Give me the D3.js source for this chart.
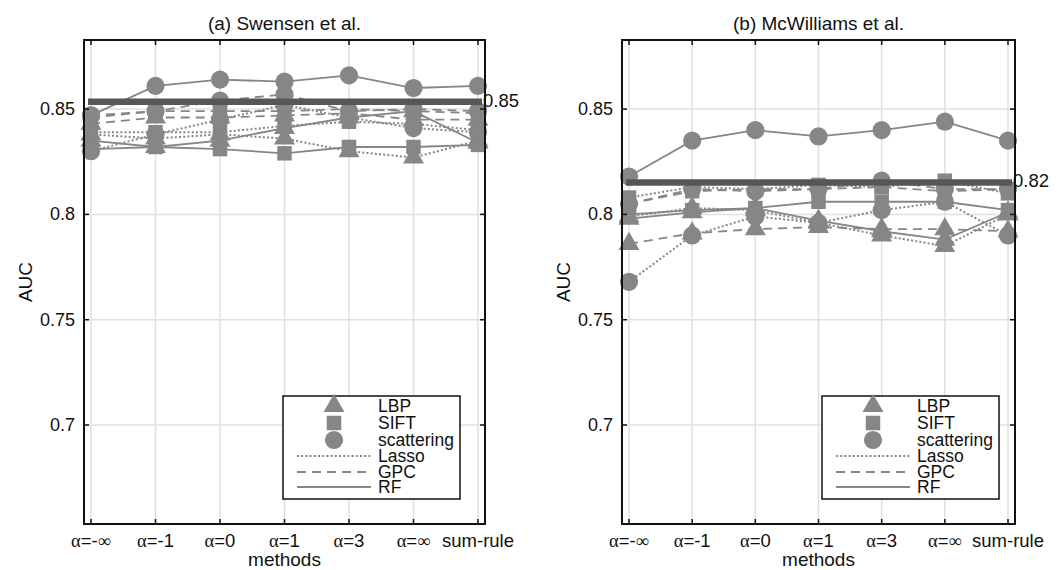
<!DOCTYPE html>
<html>
<head>
<meta charset="utf-8">
<script src="https://cdn.jsdelivr.net/npm/d3@7"></script>
<style>
  body { margin: 0; background: #fff; }
  svg text { font-family: "Liberation Sans", Arial, sans-serif; fill: #111; }
</style>
</head>
<body>
<svg id="chart" width="1060" height="570"></svg>
<script>
// x categories (fusion methods)
const methods = ["α=-∞", "α=-1", "α=0", "α=1", "α=3", "α=∞", "sum-rule"];
const yTicks = [0.7, 0.75, 0.8, 0.85];
const features = ["LBP", "SIFT", "scattering"];
const classifiers = ["Lasso", "GPC", "RF"];

// (a) Swensen et al.
const swLbpLasso = [0.838, 0.836, 0.838, 0.836, 0.830, 0.827, 0.835];
const swLbpGpc   = [0.843, 0.846, 0.846, 0.847, 0.848, 0.845, 0.845];
const swLbpRf    = [0.835, 0.832, 0.835, 0.841, 0.846, 0.849, 0.834];
const swSiftLasso = [0.839, 0.839, 0.839, 0.842, 0.844, 0.843, 0.840];
const swSiftGpc   = [0.846, 0.849, 0.849, 0.849, 0.850, 0.849, 0.848];
const swSiftRf    = [0.831, 0.832, 0.831, 0.829, 0.832, 0.832, 0.833];
const swScatLasso = [0.830, 0.838, 0.845, 0.852, 0.846, 0.841, 0.839];
const swScatGpc   = [0.847, 0.849, 0.854, 0.857, 0.849, 0.850, 0.849];
const swScatRf    = [0.847, 0.861, 0.864, 0.863, 0.866, 0.860, 0.861];
const swBaseline = 0.8535;
const swBaselineLabel = "0.85";

// (b) McWilliams et al.
const mwLbpLasso = [0.799, 0.803, 0.802, 0.796, 0.790, 0.785, 0.800];
const mwLbpGpc   = [0.786, 0.791, 0.793, 0.794, 0.793, 0.793, 0.792];
const mwLbpRf    = [0.798, 0.801, 0.803, 0.797, 0.792, 0.788, 0.801];
const mwSiftLasso = [0.808, 0.813, 0.812, 0.814, 0.813, 0.816, 0.810];
const mwSiftGpc   = [0.805, 0.811, 0.812, 0.812, 0.813, 0.811, 0.812];
const mwSiftRf    = [0.800, 0.802, 0.803, 0.806, 0.806, 0.806, 0.802];
const mwScatLasso = [0.768, 0.790, 0.799, 0.796, 0.802, 0.806, 0.790];
const mwScatGpc   = [0.805, 0.812, 0.811, 0.812, 0.816, 0.812, 0.812];
const mwScatRf    = [0.818, 0.835, 0.840, 0.837, 0.840, 0.844, 0.835];
const mwBaseline = 0.8152;
const mwBaselineLabel = "0.82";

const grey = "#868686";
const symbols = { LBP: d3.symbolTriangle, SIFT: d3.symbolSquare, scattering: d3.symbolCircle };
const symSize = { LBP: 190, SIFT: 210, scattering: 260 };
const dash = { Lasso: "2 2.2", GPC: "9 6", RF: null };

function makeSeries(rows) {
  // rows: [[feature, classifier, values], ...]
  return rows.map(([f, c, v]) => ({ feature: f, clf: c, values: v }));
}

const panels = [
  {
    title: "(a) Swensen et al.",
    left: 84, right: 485, top: 40, bottom: 524, legendX: 283,
    baseline: swBaseline, baselineLabel: swBaselineLabel,
    series: makeSeries([
      ["LBP", "Lasso", swLbpLasso], ["LBP", "GPC", swLbpGpc], ["LBP", "RF", swLbpRf],
      ["SIFT", "Lasso", swSiftLasso], ["SIFT", "GPC", swSiftGpc], ["SIFT", "RF", swSiftRf],
      ["scattering", "Lasso", swScatLasso], ["scattering", "GPC", swScatGpc], ["scattering", "RF", swScatRf]
    ])
  },
  {
    title: "(b) McWilliams et al.",
    left: 622, right: 1015, top: 40, bottom: 524, legendX: 822,
    baseline: mwBaseline, baselineLabel: mwBaselineLabel,
    series: makeSeries([
      ["LBP", "Lasso", mwLbpLasso], ["LBP", "GPC", mwLbpGpc], ["LBP", "RF", mwLbpRf],
      ["SIFT", "Lasso", mwSiftLasso], ["SIFT", "GPC", mwSiftGpc], ["SIFT", "RF", mwSiftRf],
      ["scattering", "Lasso", mwScatLasso], ["scattering", "GPC", mwScatGpc], ["scattering", "RF", mwScatRf]
    ])
  }
];

const svg = d3.select("#chart");
panels.forEach(drawPanel);

// alpha and infinity come out in a serif font like the TeX labels
function fillTickLabel(sel, label) {
  const parts = label.split(/([α∞])/).filter((s) => s.length);
  parts.forEach((p) => {
    const t = sel.append("tspan").text(p);
    if (p === "α" || p === "∞") t.style("font-family", "'Liberation Serif', 'DejaVu Serif', serif");
  });
}

function drawPanel(p) {
  const pad = 7;
  const x = d3.scaleLinear()
    .domain([0, methods.length - 1])
    .range([p.left + pad, p.right - pad]);
  const y = d3.scaleLinear().domain([0.653, 0.8828]).range([p.bottom, p.top]);
  const g = svg.append("g");

  // grid
  g.selectAll(".vgrid").data(d3.range(methods.length)).enter().append("line")
    .attr("x1", (d) => x(d)).attr("x2", (d) => x(d))
    .attr("y1", p.top).attr("y2", p.bottom)
    .attr("stroke", "#e0e0e0").attr("stroke-width", 1.5);
  g.selectAll(".hgrid").data(yTicks).enter().append("line")
    .attr("x1", p.left).attr("x2", p.right)
    .attr("y1", (d) => y(d)).attr("y2", (d) => y(d))
    .attr("stroke", "#e0e0e0").attr("stroke-width", 1.5);

  // series lines
  const line = d3.line().x((d, i) => x(i)).y((d) => y(d));
  g.selectAll(".series").data(p.series).enter().append("path")
    .attr("d", (d) => line(d.values))
    .attr("fill", "none")
    .attr("stroke", grey)
    .attr("stroke-width", (d) => (d.clf === "Lasso" ? 2 : 1.8))
    .attr("stroke-dasharray", (d) => dash[d.clf]);

  // markers
  p.series.forEach((s) => {
    g.selectAll(null).data(s.values).enter().append("path")
      .attr("transform", (d, i) => `translate(${x(i)},${y(d)})`)
      .attr("d", d3.symbol().type(symbols[s.feature]).size(symSize[s.feature]))
      .attr("fill", grey);
  });

  // thick reference line and its label
  g.append("line")
    .attr("x1", x(0) - 3).attr("x2", x(methods.length - 1) + 4)
    .attr("y1", y(p.baseline)).attr("y2", y(p.baseline))
    .attr("stroke", "#575757").attr("stroke-width", 6.5);
  g.append("text")
    .attr("x", p.right - 2).attr("y", y(p.baseline) + 5)
    .style("font-size", "18.5px")
    .text(p.baselineLabel);

  // box
  g.append("rect")
    .attr("x", p.left).attr("y", p.top)
    .attr("width", p.right - p.left).attr("height", p.bottom - p.top)
    .attr("fill", "none").attr("stroke", "#111").attr("stroke-width", 2);

  // inward ticks on all four sides
  const tl = 5;
  d3.range(methods.length).forEach((i) => {
    g.append("line").attr("x1", x(i)).attr("x2", x(i)).attr("y1", p.bottom).attr("y2", p.bottom - tl)
      .attr("stroke", "#111").attr("stroke-width", 1.5);
    g.append("line").attr("x1", x(i)).attr("x2", x(i)).attr("y1", p.top).attr("y2", p.top + tl)
      .attr("stroke", "#111").attr("stroke-width", 1.5);
  });
  yTicks.forEach((t) => {
    g.append("line").attr("x1", p.left).attr("x2", p.left + tl).attr("y1", y(t)).attr("y2", y(t))
      .attr("stroke", "#111").attr("stroke-width", 1.5);
    g.append("line").attr("x1", p.right).attr("x2", p.right - tl).attr("y1", y(t)).attr("y2", y(t))
      .attr("stroke", "#111").attr("stroke-width", 1.5);
  });

  // tick labels
  yTicks.forEach((t) => {
    g.append("text")
      .attr("x", p.left - 9).attr("y", y(t) + 6)
      .attr("text-anchor", "end")
      .style("font-size", "18px")
      .text(d3.format("")(t));
  });
  methods.forEach((m, i) => {
    const t = g.append("text")
      .attr("x", x(i)).attr("y", p.bottom + 23)
      .attr("text-anchor", "middle")
      .style("font-size", "18.5px");
    fillTickLabel(t, m);
  });

  // axis titles
  g.append("text")
    .attr("x", (p.left + p.right) / 2).attr("y", p.bottom + 42)
    .attr("text-anchor", "middle").style("font-size", "19px")
    .text("methods");
  g.append("text")
    .attr("transform", `translate(${p.left - 52},${(p.top + p.bottom) / 2}) rotate(-90)`)
    .attr("text-anchor", "middle").style("font-size", "19px")
    .text("AUC");
  g.append("text")
    .attr("x", (p.left + p.right) / 2).attr("y", p.top - 10)
    .attr("text-anchor", "middle").style("font-size", "19px")
    .text(p.title);

  // legend
  const lw = 177, lh = 103;
  const lg = g.append("g").attr("transform", `translate(${p.legendX},396)`);
  lg.append("rect").attr("width", lw).attr("height", lh)
    .attr("fill", "#fff").attr("stroke", "#111").attr("stroke-width", 1.5);
  const rowY = [10, 27, 44, 60, 76, 91];
  features.forEach((f, i) => {
    lg.append("path")
      .attr("transform", `translate(51,${rowY[i]})`)
      .attr("d", d3.symbol().type(symbols[f]).size(symSize[f]))
      .attr("fill", grey);
  });
  classifiers.forEach((c, i) => {
    lg.append("line")
      .attr("x1", 14).attr("x2", 88)
      .attr("y1", rowY[i + 3]).attr("y2", rowY[i + 3])
      .attr("stroke", grey).attr("stroke-width", 2)
      .attr("stroke-dasharray", dash[c]);
  });
  features.concat(classifiers).forEach((name, i) => {
    lg.append("text")
      .attr("x", 95).attr("y", rowY[i] + 6)
      .style("font-size", "17.5px")
      .text(name);
  });
}
</script>
</body>
</html>
